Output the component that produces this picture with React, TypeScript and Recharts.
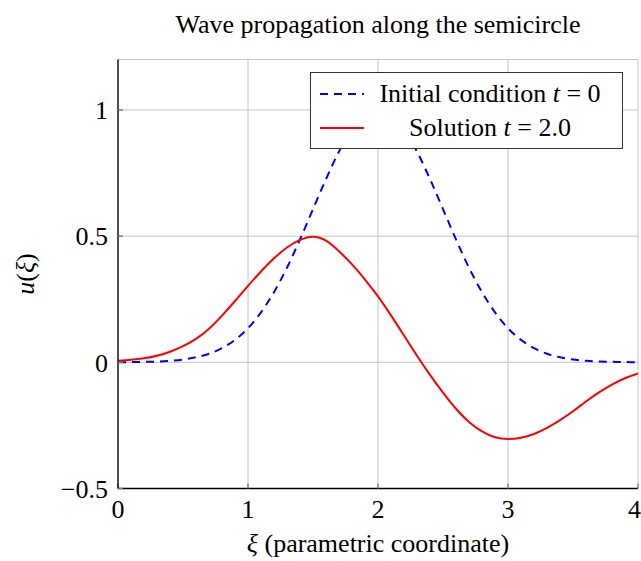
import { LineChart, Line, XAxis, YAxis, CartesianGrid } from 'recharts'

const XI = [
  0, 0.1, 0.2, 0.3, 0.4, 0.5, 0.6, 0.7, 0.8, 0.9, 1.0, 1.1, 1.2, 1.3, 1.4, 1.5, 1.6, 1.7, 1.8, 1.9, 2.0,
  2.1, 2.2, 2.3, 2.4, 2.5, 2.6, 2.7, 2.8, 2.9, 3.0, 3.1, 3.2, 3.3, 3.4, 3.5, 3.6, 3.7, 3.8, 3.9, 4.0,
]

const INITIAL = [
  0.0, 0.001, 0.002, 0.003, 0.006, 0.011, 0.02, 0.034, 0.056, 0.089, 0.135, 0.198, 0.278, 0.375, 0.487, 0.607,
  0.726, 0.835, 0.923, 0.98, 1.0, 0.98, 0.923, 0.835, 0.726, 0.607, 0.487, 0.375, 0.278, 0.198, 0.135, 0.089,
  0.056, 0.034, 0.02, 0.011, 0.006, 0.003, 0.002, 0.001, 0.0,
]

const SOLUTION = [
  0.006, 0.01, 0.016, 0.026, 0.042, 0.064, 0.093, 0.133, 0.185, 0.243, 0.303, 0.36, 0.412, 0.455, 0.485, 0.498,
  0.482, 0.44, 0.388, 0.328, 0.261, 0.186, 0.106, 0.026, -0.05, -0.12, -0.184, -0.236, -0.274, -0.297, -0.304,
  -0.299, -0.284, -0.26, -0.229, -0.194, -0.155, -0.119, -0.088, -0.063, -0.044,
]

const X_TICKS = [0, 1, 2, 3, 4]
const Y_TICKS = [-0.5, 0, 0.5, 1]

const TITLE = 'Wave propagation along the semicircle'

const data = XI.map((xi, i) => ({ xi, initial: INITIAL[i], solution: SOLUTION[i] }))

const FONT = '"Liberation Serif", "Times New Roman", serif'
const tickStyle = { fill: '#000', fontSize: 26, fontFamily: FONT }

const fmt = (v: number) => (v < 0 ? '\u2212' + Math.abs(v) : String(v))

export default function App() {
  return (
    <div style={{ position: 'absolute', left: 0, top: 0, width: 641, height: 561, background: '#fff' }}>
      <LineChart
        width={641}
        height={561}
        data={data}
        margin={{ top: 59.5, right: 3, left: 0, bottom: 42.5 }}
      >
        <CartesianGrid stroke="#c4c4c4" strokeWidth={1} />
        <XAxis
          dataKey="xi"
          type="number"
          domain={[0, 4]}
          ticks={X_TICKS}
          allowDataOverflow
          height={30}
          stroke="#000"
          strokeWidth={1.3}
          tickLine={{ stroke: '#777' }}
          tickSize={-5}
          tickMargin={16}
          tick={tickStyle}
        />
        <XAxis
          xAxisId="top"
          orientation="top"
          type="number"
          domain={[0, 4]}
          ticks={X_TICKS}
          height={0}
          stroke="#000"
          strokeWidth={1.3}
          tickLine={{ stroke: '#777' }}
          tickSize={-5}
          tick={false}
        />
        <YAxis
          type="number"
          domain={[-0.5, 1.2]}
          ticks={Y_TICKS}
          allowDataOverflow
          width={118}
          stroke="#000"
          strokeWidth={1.3}
          tickLine={{ stroke: '#777' }}
          tickSize={-5}
          tickMargin={15}
          tick={tickStyle}
          tickFormatter={fmt}
        />
        <YAxis
          yAxisId="right"
          orientation="right"
          type="number"
          domain={[-0.5, 1.2]}
          ticks={Y_TICKS}
          width={0}
          stroke="#000"
          strokeWidth={1.3}
          tickLine={{ stroke: '#777' }}
          tickSize={-5}
          tick={false}
        />
        <Line
          type="monotone"
          dataKey="initial"
          stroke="#0000ff"
          strokeWidth={2}
          strokeDasharray="8 6"
          dot={false}
          isAnimationActive={false}
        />
        <Line
          type="natural"
          dataKey="solution"
          stroke="#ff0000"
          strokeWidth={2}
          dot={false}
          isAnimationActive={false}
        />
      </LineChart>

      <svg
        width={641}
        height={561}
        style={{ position: 'absolute', left: 0, top: 0, pointerEvents: 'none' }}
      >
        <text x={378} y={33} textAnchor="middle" fontSize={26} fontFamily={FONT} fill="#000">
          {TITLE}
        </text>
        <text x={378} y={552} textAnchor="middle" fontSize={26} fontFamily={FONT} fill="#000">
          <tspan fontStyle="italic">ξ</tspan> (parametric coordinate)
        </text>
        <text
          x={0}
          y={0}
          transform="translate(34,274) rotate(-90)"
          textAnchor="middle"
          fontSize={26}
          fontFamily={FONT}
          fill="#000"
        >
          <tspan fontStyle="italic">u</tspan>(<tspan fontStyle="italic">ξ</tspan>)
        </text>
      </svg>

      <div
        style={{
          position: 'absolute',
          left: 310,
          top: 71.5,
          width: 313,
          height: 77,
          boxSizing: 'border-box',
          border: '1px solid #333',
          background: '#fff',
          fontFamily: FONT,
          fontSize: 26,
          color: '#000',
          paddingTop: 4,
        }}
      >
        {[
          { key: 'initial', color: '#0000ff', dash: '8 6', label: (<>Initial condition <i>t</i> = 0</>) },
          { key: 'solution', color: '#ff0000', dash: undefined, label: (<>Solution <i>t</i> = 2.0</>) },
        ].map((item) => (
          <div key={item.key} style={{ display: 'flex', alignItems: 'center', height: 34 }}>
            <svg width={52} height={6} style={{ marginLeft: 8, flex: 'none' }}>
              <line x1={1} y1={3} x2={45} y2={3} stroke={item.color} strokeWidth={2} strokeDasharray={item.dash} />
            </svg>
            <span style={{ width: 238, textAlign: 'center', whiteSpace: 'nowrap', lineHeight: '34px' }}>
              {item.label}
            </span>
          </div>
        ))}
      </div>
    </div>
  )
}
